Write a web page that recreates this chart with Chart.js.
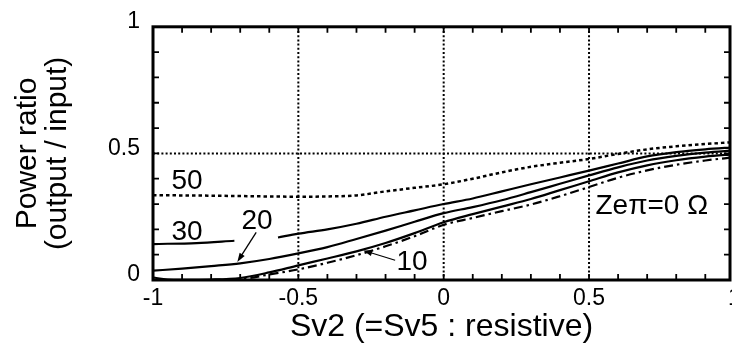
<!DOCTYPE html>
<html><head><meta charset="utf-8">
<script src="https://cdn.jsdelivr.net/npm/chart.js@4/dist/chart.umd.min.js"></script>
<style>html,body{margin:0;padding:0;background:#fff;overflow:hidden}#wrap{width:732px;height:347px;position:relative}</style>
</head><body><div id="wrap"><canvas id="c"></canvas></div>
<script>
// ---- data ----
const sv2_50   = [-1,-0.8,-0.6,-0.5,-0.4,-0.3,-0.2,-0.1,0,0.1,0.2,0.3,0.4,0.5,0.6,0.7,0.8,0.9,1];
const ratio_50 = [0.335,0.333,0.330,0.329,0.330,0.334,0.350,0.364,0.378,0.400,0.425,0.447,0.463,0.478,0.498,0.516,0.528,0.537,0.545];
const sv2_30   = [-1,-0.85,-0.72,-0.65,-0.57,-0.5,-0.4,-0.3,-0.2,-0.1,0,0.1,0.2,0.3,0.4,0.5,0.6,0.7,0.8,0.9,1];
const ratio_30 = [0.142,0.146,0.155,null,0.168,0.183,0.200,0.222,0.250,0.275,0.300,0.322,0.350,0.378,0.405,0.432,0.460,0.488,0.505,0.516,0.524];
const sv2_20   = [-1,-0.9,-0.8,-0.7,-0.6,-0.5,-0.4,-0.3,-0.2,-0.1,0,0.1,0.2,0.3,0.4,0.5,0.6,0.7,0.8,0.9,1];
const ratio_20 = [0.037,0.045,0.055,0.066,0.083,0.105,0.130,0.162,0.195,0.230,0.264,0.288,0.315,0.347,0.380,0.413,0.445,0.472,0.490,0.503,0.512];
const sv2_10   = [-1,-0.95,-0.9,-0.8,-0.7,-0.6,-0.5,-0.4,-0.3,-0.2,-0.1,0,0.1,0.2,0.3,0.4,0.5,0.6,0.7,0.8,0.9,1];
const ratio_10 = [0.010,0.002,0.001,0.002,0.008,0.030,0.058,0.085,0.113,0.146,0.185,0.228,0.260,0.290,0.320,0.355,0.390,0.425,0.453,0.473,0.487,0.497];
const sv2_0    = [-1,-0.8,-0.7,-0.6,-0.5,-0.4,-0.3,-0.2,-0.1,0,0.1,0.2,0.3,0.4,0.5,0.6,0.7,0.8,0.9,1];
const ratio_0  = [0.000,0.000,0.003,0.022,0.042,0.068,0.098,0.133,0.173,0.218,0.245,0.272,0.298,0.331,0.367,0.404,0.433,0.455,0.472,0.485];
const seriesNames = ['50','30','20','10','Zeπ=0 Ω'];
const xTickLabels = ['-1','-0.5','0','0.5','1'];
const yTickLabels = ['0','0.5','1'];
const xTitle = 'Sv2 (=Sv5 : resistive)';
const yTitle = ['Power ratio','(output / input)'];

// ---- helpers ----
const pts = (xs, ys) => xs.map((x, i) => ({x: x, y: ys[i]}));
const FONT = '"Liberation Sans", Arial, Helvetica, sans-serif';
const near = (v, t) => Math.abs(v - t) < 1e-6;

// annotation placement (data coordinates)
const labelPos = [
  {t: seriesNames[0], x: -0.883, y: 0.389},
  {t: seriesNames[1], x: -0.883, y: 0.187},
  {t: seriesNames[2], x: -0.642, y: 0.232},
  {t: seriesNames[3], x: -0.109, y: 0.070},
  {t: seriesNames[4], x: 0.716, y: 0.292}
];
const arrows = [
  {x1: -0.645, y1: 0.188, x2: -0.710, y2: 0.071},
  {x1: -0.167, y1: 0.078, x2: -0.277, y2: 0.117}
];

const decor = {
  id: 'decor',
  beforeDatasetsDraw(chart) {
    const {ctx, chartArea: a, scales: {x, y}} = chart;
    ctx.save();
    ctx.strokeStyle = '#000';
    ctx.lineWidth = 2;
    ctx.setLineDash([2, 2.2]);
    [-0.5, 0, 0.5].forEach(v => {
      const p = x.getPixelForValue(v);
      ctx.beginPath(); ctx.moveTo(p, a.top); ctx.lineTo(p, a.bottom); ctx.stroke();
    });
    [0.5].forEach(v => {
      const p = y.getPixelForValue(v);
      ctx.beginPath(); ctx.moveTo(a.left, p); ctx.lineTo(a.right, p); ctx.stroke();
    });
    ctx.restore();
  },
  afterDatasetsDraw(chart) {
    const {ctx, chartArea: a, scales: {x, y}} = chart;
    ctx.save();
    ctx.strokeStyle = '#000';
    ctx.setLineDash([]);
    // ticks (inward)
    ctx.lineWidth = 1.8;
    x.ticks.forEach(t => {
      if (t.value < x.min - 1e-9 || t.value > x.max + 1e-9) return;
      const p = x.getPixelForValue(t.value);
      ctx.beginPath(); ctx.moveTo(p, a.bottom); ctx.lineTo(p, a.bottom - 6);
      ctx.moveTo(p, a.top); ctx.lineTo(p, a.top + 6); ctx.stroke();
    });
    y.ticks.forEach(t => {
      const p = y.getPixelForValue(t.value);
      ctx.beginPath(); ctx.moveTo(a.left, p); ctx.lineTo(a.left + 6, p);
      ctx.moveTo(a.right, p); ctx.lineTo(a.right - 6, p); ctx.stroke();
    });
    // frame
    ctx.lineWidth = 3;
    ctx.strokeRect(a.left, a.top, a.right - a.left, a.bottom - a.top);
    // curve labels
    ctx.fillStyle = '#000';
    ctx.font = '28px ' + FONT;
    ctx.textAlign = 'center';
    ctx.textBaseline = 'middle';
    labelPos.forEach(l => ctx.fillText(l.t, x.getPixelForValue(l.x), y.getPixelForValue(l.y)));
    // arrows
    ctx.lineWidth = 1.3;
    arrows.forEach(ar => {
      const X1 = x.getPixelForValue(ar.x1), Y1 = y.getPixelForValue(ar.y1);
      const X2 = x.getPixelForValue(ar.x2), Y2 = y.getPixelForValue(ar.y2);
      const ang = Math.atan2(Y2 - Y1, X2 - X1);
      const L = 9, W = 3;
      ctx.beginPath(); ctx.moveTo(X1, Y1); ctx.lineTo(X2 - Math.cos(ang) * L * 0.8, Y2 - Math.sin(ang) * L * 0.8); ctx.stroke();
      ctx.beginPath();
      ctx.moveTo(X2, Y2);
      ctx.lineTo(X2 - Math.cos(ang) * L + Math.sin(ang) * W, Y2 - Math.sin(ang) * L - Math.cos(ang) * W);
      ctx.lineTo(X2 - Math.cos(ang) * L - Math.sin(ang) * W, Y2 - Math.sin(ang) * L + Math.cos(ang) * W);
      ctx.closePath(); ctx.fill();
    });
    ctx.restore();
  }
};

const base = {showLine: true, pointRadius: 0, borderColor: '#000', backgroundColor: '#000', fill: false, cubicInterpolationMode: 'monotone', spanGaps: false};

new Chart(document.getElementById('c'), {
  type: 'scatter',
  data: {
    datasets: [
      Object.assign({}, base, {label: seriesNames[0], data: pts(sv2_50, ratio_50), borderWidth: 2.5, borderDash: [3.5, 3]}),
      Object.assign({}, base, {label: seriesNames[1], data: pts(sv2_30, ratio_30), borderWidth: 2.2}),
      Object.assign({}, base, {label: seriesNames[2], data: pts(sv2_20, ratio_20), borderWidth: 2.2}),
      Object.assign({}, base, {label: seriesNames[3], data: pts(sv2_10, ratio_10), borderWidth: 2.2}),
      Object.assign({}, base, {label: seriesNames[4], data: pts(sv2_0, ratio_0), borderWidth: 2.2, borderDash: [9, 4, 2.5, 4]})
    ]
  },
  options: {
    responsive: true,
    maintainAspectRatio: false,
    animation: false,
    events: [],
    layout: {padding: {left: 0, right: 2, top: 23, bottom: 0}},
    plugins: {legend: {display: false}, tooltip: {enabled: false}},
    scales: {
      x: {
        type: 'linear', min: -1, max: 0.985,
        grid: {display: false, drawTicks: false},
        border: {display: false},
        ticks: {
          stepSize: 0.1, includeBounds: false, autoSkip: false, maxRotation: 0, padding: 5,
          color: '#000', font: {family: FONT, size: 23},
          callback: v => { const i = [-1, -0.5, 0, 0.5, 1].findIndex(t => near(v, t)); return i >= 0 ? xTickLabels[i] : ''; }
        },
        afterBuildTicks: s => { if (!s.ticks.some(t => near(t.value, 1))) s.ticks.push({value: 1}); },
        afterFit: s => { s.height = 67; s.paddingLeft = 0; s.paddingRight = 0; },
        title: {display: true, text: xTitle, color: '#000', font: {family: FONT, size: 32, lineHeight: 1}, padding: {top: 0, bottom: 4}}
      },
      y: {
        type: 'linear', min: 0, max: 1,
        grid: {display: false, drawTicks: false},
        border: {display: false},
        ticks: {
          stepSize: 0.1, autoSkip: false, padding: 13, labelOffset: -5,
          color: '#000', font: {family: FONT, size: 23},
          callback: v => { const i = [0, 0.5, 1].findIndex(t => near(v, t)); return i >= 0 ? yTickLabels[i] : ''; }
        },
        afterFit: s => { s.width = 153; },
        title: {display: true, text: yTitle, color: '#000', font: {family: FONT, size: 30, lineHeight: 1}, padding: {top: 13, bottom: 0}}
      }
    }
  },
  plugins: [decor]
});
</script>
</body></html>
